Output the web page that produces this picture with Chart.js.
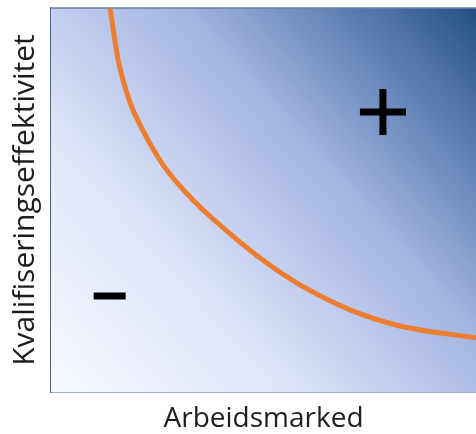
<!DOCTYPE html>
<html>
<head>
<meta charset="utf-8">
<script src="https://cdn.jsdelivr.net/npm/chart.js@4"></script>
<style>
  html, body { margin: 0; padding: 0; background: #ffffff; }
  #wrap { width: 476px; height: 434px; }
</style>
</head>
<body>
<div id="wrap"><canvas id="myChart" width="476" height="434"></canvas></div>
<script>
  // labels
  const xTitle = "Arbeidsmarked";
  const yTitle = "Kvalifiseringseffektivitet";

  // the orange boundary curve (0-100 on both axes)
  const curveX = [13.9, 15.8, 18.4, 21.6, 26.4, 33.4, 41.4, 50.4, 58.6, 70.4, 82.1, 100];
  const curveY = [100, 86.5, 76.0, 68.2, 59.1, 50.0, 41.9, 33.9, 27.9, 21.4, 17.2, 14.1];

  // the + and - markers
  const plusPoint = { x: 78.1, y: 72.9 };
  const minusPoint = { x: 13.8, y: 25.0 };

  const curveData = curveX.map((x, i) => ({ x: x, y: curveY[i] }));

  //background gradient from lower left (white) to upper right (dark blue)
  const gradientBg = {
    id: "gradientBg",
    beforeDatasetsDraw(chart) {
      const { ctx, chartArea: a } = chart;
      const g = ctx.createLinearGradient(a.left, a.bottom, a.right, a.top);
      g.addColorStop(0, "#f7f9fe");
      g.addColorStop(0.3, "#dfe6f8");
      g.addColorStop(0.5, "#b9c6ec");
      g.addColorStop(0.62, "#a3b4df");
      g.addColorStop(0.76, "#7191c1");
      g.addColorStop(0.88, "#4d71a2");
      g.addColorStop(1, "#23507f");
      ctx.save();
      ctx.fillStyle = g;
      ctx.fillRect(a.left, a.top, a.right - a.left, a.bottom - a.top);
      // thin frame on top
      ctx.strokeStyle = "#6d7fae";
      ctx.lineWidth = 1.5;
      ctx.beginPath();
      ctx.moveTo(a.left, a.top);
      ctx.lineTo(a.right, a.top);
      ctx.stroke();
      ctx.restore();
    }
  };

  const chart = document.getElementById("myChart").getContext("2d");

  const myChart = new Chart(chart, {
    type: "scatter",
    data: {
      datasets: [
        {
          label: "curve",
          data: curveData,
          showLine: true,
          cubicInterpolationMode: "monotone",
          borderColor: "#ed7d31",
          borderWidth: 5,
          pointRadius: 0,
          fill: false,
        },
        {
          label: "plus",
          data: [plusPoint],
          pointStyle: "cross",
          pointRadius: 23,
          borderWidth: 7,
          borderColor: "#000000",
          backgroundColor: "#000000",
        },
        {
          label: "minus",
          data: [minusPoint],
          pointStyle: "line",
          pointRadius: 16,
          borderWidth: 7,
          borderColor: "#000000",
          backgroundColor: "#000000",
        },
      ],
    },
    options: {
      responsive: false,
      animation: false,
      layout: { autoPadding: false, padding: { top: 8, right: 0, left: 0, bottom: 0 } },
      plugins: {
        legend: { display: false },
        tooltip: { enabled: false },
      },
      scales: {
        x: {
          min: 0,
          max: 100,
          ticks: { display: false },
          grid: { display: false, drawTicks: false },
          border: { display: true, color: "#4a5f9e", width: 1.5 },
          title: {
            display: true,
            text: xTitle,
            color: "#1e1e1e",
            font: { family: "Open Sans", size: 28, lineHeight: 1 },
            padding: { top: 0, bottom: 1 },
          },
          afterFit: (scale) => { scale.height = 42; },
        },
        y: {
          min: 0,
          max: 100,
          ticks: { display: false },
          grid: { display: false, drawTicks: false },
          border: { display: true, color: "#4a5f9e", width: 1.5 },
          title: {
            display: true,
            text: yTitle,
            color: "#1e1e1e",
            font: { family: "Open Sans", size: 30, lineHeight: 1 },
            padding: { top: 10, bottom: 0 },
          },
          afterFit: (scale) => { scale.width = 51; },
        },
      },
    },
    plugins: [gradientBg],
  });
</script>
</body>
</html>
